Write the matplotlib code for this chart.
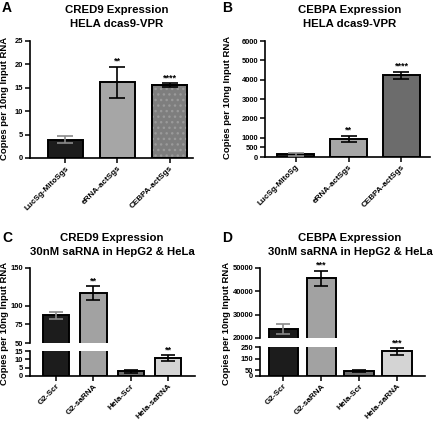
import numpy as np
import matplotlib.pyplot as plt

plt.rcParams['font.family'] = ['Liberation Sans', 'DejaVu Sans']
plt.rcParams['font.weight'] = 'bold'

# Panel A - CRED9, HELA dcas9-VPR
a_labels = ['LucSg-MitoSgs', 'eRNA-actSgs', 'CEBPA-actSgs']
a_vals = [3.9, 16.2, 15.6]
a_err = [0.7, 3.35, 0.35]
a_stars = ['', '**', '****']

# Panel B - CEBPA, HELA dcas9-VPR
b_labels = ['LucSg-MitoSg', 'eRNA-actSgs', 'CEBPA-actSgs']
b_vals = [130, 930, 4230]
b_err = [60, 170, 180]
b_stars = ['', '**', '****']

# Panel C - CRED9, saRNA
c_labels = ['G2-Scr', 'G2-saRNA', 'Hela-Scr', 'Hela-saRNA']
c_vals = [87, 117, 2.8, 10.6]
c_err = [5, 9, 0.9, 1.8]
c_stars = ['', '**', '', '**']

# Panel D - CEBPA, saRNA
d_labels = ['G2-Scr', 'G2-saRNA', 'Hela-Scr', 'Hela-saRNA']
d_vals = [23800, 45700, 45, 212]
d_err = [2000, 3200, 10, 28]
d_stars = ['', '***', '', '***']

W, H = 440, 421
fig = plt.figure(figsize=(W / 100, H / 100), dpi=100)

YT_FS = 5.4
XT_FS = 5.9


def px_axes(x0, y0, x1, y1):
    return fig.add_axes([x0 / W, 1 - y1 / H, (x1 - x0) / W, (y1 - y0) / H])


def style(ax, bottom=True):
    for s in ['top', 'right']:
        ax.spines[s].set_visible(False)
    ax.spines['left'].set_linewidth(1.2)
    ax.spines['bottom'].set_linewidth(1.2)
    if not bottom:
        ax.spines['bottom'].set_visible(False)
        ax.tick_params(axis='x', bottom=False, labelbottom=False)
    ax.tick_params(axis='both', width=1.1, length=3.6, pad=1.2)
    ax.tick_params(axis='y', labelsize=YT_FS)
    for t in ax.get_yticklabels():
        t.set_fontweight('bold')


def draw_bars(ax, vals, err, colors, ecolors, width, cap, dotted=None):
    x = np.arange(len(vals))
    ax.bar(x, vals, width=width, color=colors, edgecolor='black', linewidth=1.4, zorder=2)
    if dotted is not None:
        # speckled fill of the third bar in panel A
        ax.bar(x[dotted], vals[dotted], width=width, color='none', edgecolor='#9a9a9a',
               hatch='...', linewidth=0, zorder=2.5)
        ax.bar(x[dotted], vals[dotted], width=width, color='none', edgecolor='black',
               linewidth=1.4, zorder=2.6)
    for i in range(len(vals)):
        ax.errorbar(x[i], vals[i], yerr=err[i], fmt='none', ecolor=ecolors[i],
                    elinewidth=1.2, capsize=cap, capthick=1.2, zorder=3)
    return x


def add_stars(ax, x, vals, err, stars, fs=6.5):
    for i in range(len(vals)):
        if stars[i]:
            ax.annotate(stars[i], (x[i], vals[i] + err[i]), xytext=(0, 0.5),
                        textcoords='offset points', ha='center', va='bottom',
                        fontsize=fs, fontweight='bold', annotation_clip=False)


def xlabels(ax, x, labels):
    ax.set_xticks(x)
    ax.set_xticklabels(labels, rotation=45, ha='right', rotation_mode='anchor',
                       fontsize=XT_FS, fontweight='bold')


def titles(xc, y, l1, l2):
    fig.text(xc / W, 1 - y / H, l1, ha='center', va='center', fontsize=8.2, fontweight='bold')
    fig.text(xc / W, 1 - (y + 14) / H, l2, ha='center', va='center', fontsize=8.2, fontweight='bold')


ylab = 'Copies per 10ng Input RNA'
YL_FS = 6.8

# ---------- A ----------
ax = px_axes(30, 41, 193, 158)
x = draw_bars(ax, np.array(a_vals), a_err, ['#1c1c1c', '#a6a6a6', '#7e7e7e'],
              ['#8a8a8a', 'black', 'black'], 0.67, 6, dotted=2)
add_stars(ax, x, a_vals, a_err, a_stars)
ax.set_xlim(-0.68, 2.45)
ax.set_ylim(0, 25)
ax.set_yticks([0, 5, 10, 15, 20, 25])
style(ax)
xlabels(ax, x, a_labels)
fig.text(5 / W, 1 - 98 / H, ylab, rotation=90, ha='center', va='center', fontsize=YL_FS, fontweight='bold')
titles(117, 10, 'CRED9 Expression', 'HELA dcas9-VPR')
fig.text(2 / W, 1 - 8 / H, 'A', ha='left', va='center', fontsize=10, fontweight='bold')

# ---------- B ----------
ax = px_axes(265, 41, 430, 157)
x = draw_bars(ax, np.array(b_vals), b_err, ['#1c1c1c', '#a6a6a6', '#6c6c6c'],
              ['#8a8a8a', 'black', 'black'], 0.69, 6)
add_stars(ax, x, b_vals, b_err, b_stars)
ax.set_xlim(-0.58, 2.54)
ax.set_ylim(0, 6000)
ax.set_yticks([0, 500, 1000, 2000, 3000, 4000, 5000, 6000])
style(ax)
xlabels(ax, x, b_labels)
fig.text(227 / W, 1 - 97 / H, ylab, rotation=90, ha='center', va='center', fontsize=YL_FS, fontweight='bold')
titles(350, 10, 'CEBPA Expression', 'HELA dcas9-VPR')
fig.text(222 / W, 1 - 8 / H, 'B', ha='left', va='center', fontsize=10, fontweight='bold')

# ---------- C (broken axis) ----------
c_colors = ['#1c1c1c', '#a2a2a2', '#6e6e6e', '#d4d4d4']
c_ecol = ['#8a8a8a', 'black', 'black', 'black']
cv = np.array(c_vals)
top = px_axes(30, 268, 195, 343)
x = draw_bars(top, cv, c_err, c_colors, c_ecol, 0.7, 5)
top.set_xlim(-0.70, 3.72)
top.set_ylim(50, 150)
top.set_yticks([50, 75, 100, 150])
style(top, bottom=False)
add_stars(top, x[:2], cv[:2], c_err[:2], c_stars[:2])
bot = px_axes(30, 351, 195, 376)
draw_bars(bot, cv, c_err, c_colors, c_ecol, 0.7, 5)
bot.set_xlim(-0.70, 3.72)
bot.set_ylim(0, 15)
bot.set_yticks([0, 5, 10, 15])
style(bot)
add_stars(bot, x[2:], cv[2:], c_err[2:], c_stars[2:])
xlabels(bot, x, c_labels)
fig.text(5 / W, 1 - 323 / H, ylab, rotation=90, ha='center', va='center', fontsize=YL_FS, fontweight='bold')
titles(112, 238, 'CRED9 Expression', '30nM saRNA in HepG2 & HeLa')
fig.text(2 / W, 1 - 238 / H, 'C', ha='left', va='center', fontsize=10, fontweight='bold')

# ---------- D (broken axis) ----------
dv = np.array(d_vals)
top = px_axes(260, 268, 425, 338)
x = draw_bars(top, dv, d_err, c_colors, c_ecol, 0.78, 5)
top.set_xlim(-0.62, 3.74)
top.set_ylim(20000, 50000)
top.set_yticks([20000, 30000, 40000, 50000])
style(top, bottom=False)
add_stars(top, x[:2], dv[:2], d_err[:2], d_stars[:2])
bot = px_axes(260, 347, 425, 376)
draw_bars(bot, dv, d_err, c_colors, c_ecol, 0.78, 5)
bot.set_xlim(-0.62, 3.74)
bot.set_ylim(0, 250)
bot.set_yticks([0, 50, 150, 250])
style(bot)
add_stars(bot, x[2:], dv[2:], d_err[2:], d_stars[2:])
xlabels(bot, x, d_labels)
fig.text(226 / W, 1 - 323 / H, ylab, rotation=90, ha='center', va='center', fontsize=YL_FS, fontweight='bold')
titles(350, 238, 'CEBPA Expression', '30nM saRNA in HepG2 & HeLa')
fig.text(222 / W, 1 - 238 / H, 'D', ha='left', va='center', fontsize=10, fontweight='bold')

fig.savefig('out.png', dpi=100)
